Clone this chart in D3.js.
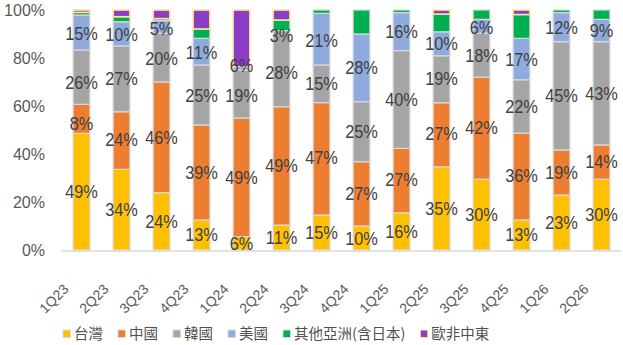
<!DOCTYPE html>
<html>
<head>
<meta charset="utf-8">
<script src="https://cdn.jsdelivr.net/npm/d3@7"></script>
<style>
  body { margin: 0; background: #fff; }
  svg text { font-family: "Liberation Sans", Arial, sans-serif; }
</style>
</head>
<body>
<svg id="chart"></svg>
<script>
// quarters on the x axis
const quarters = ["1Q23", "2Q23", "3Q23", "4Q23", "1Q24", "2Q24", "3Q24",
  "4Q24", "1Q25", "2Q25", "3Q25", "4Q25", "1Q26", "2Q26"];

// segment shares (%) as drawn, bottom to top
const taiwan    = [48.6, 33.6, 23.9, 12.5, 5.5, 10.4, 14.6, 10.0, 15.5, 34.7, 29.5, 12.5, 22.9, 29.5];
const china     = [12.1, 24.0, 46.1, 39.6, 49.5, 49.3, 46.8, 26.8, 26.8, 26.7, 42.5, 36.1, 18.8, 14.3];
const korea     = [22.6, 27.4, 20.3, 25.0, 20.0, 31.7, 15.7, 25.0, 40.7, 19.6, 18.3, 22.2, 45.1, 43.0];
const usa       = [14.6, 10.1, 5.3, 11.1, 1.4, 0.0, 21.5, 28.2, 15.8, 10.0, 5.8, 17.2, 12.1, 9.3];
const otherAsia = [1.1, 2.1, 0.8, 3.9, 0.0, 4.4, 1.4, 10.0, 1.1, 7.4, 3.9, 9.9, 1.1, 3.9];
const emea      = [1.0, 2.8, 3.6, 7.9, 23.6, 4.2, 0.0, 0.0, 0.0, 1.7, 0.0, 1.9, 0.0, 0.0];

// printed data labels (%)
const taiwanLbl = [49, 34, 24, 13, 6, 11, 15, 10, 16, 35, 30, 13, 23, 30];
const chinaLbl  = [8, 24, 46, 39, 49, 49, 47, 27, 27, 27, 42, 36, 19, 14];
const koreaLbl  = [26, 27, 20, 25, 19, 28, 15, 25, 40, 19, 18, 22, 45, 43];
const usaLbl    = [15, 10, 5, 11, 6, 3, 21, 28, 16, 10, 6, 17, 12, 9];

const seriesNames = ["台灣", "中國", "韓國", "美國", "其他亞洲(含日本)", "歐非中東"];
const yTicks = [0, 20, 40, 60, 80, 100];

const colors = ["#FFC000", "#ED7D31", "#A5A5A5", "#8FAADC", "#00B050", "#8B3DC6"];
const strokes = ["#D9D9D9", "#D9D9D9", "#D9D9D9", "#D9D9D9", "#D9D9D9", "#FFE699"];

const width = 623, height = 345;
const svg = d3.select("#chart").attr("width", width).attr("height", height);

const seriesVals = [taiwan, china, korea, usa, otherAsia, emea];
const labelVals = [taiwanLbl, chinaLbl, koreaLbl, usaLbl];

const rows = quarters.map(function (q, i) {
  const r = { q: q };
  seriesNames.forEach(function (s, k) { r[s] = seriesVals[k][i]; });
  return r;
});
const labelRows = quarters.map(function (q, i) {
  const r = { q: q };
  labelVals.forEach(function (arr, k) { r[seriesNames[k]] = arr[i]; });
  return r;
});

const stacked = d3.stack().keys(seriesNames).offset(d3.stackOffsetExpand)(rows);
const labelStack = d3.stack().keys(seriesNames.slice(0, 4))(labelRows);

// scales
const x = d3.scaleBand().domain(quarters).range([61.5, 621.5]);
const y = d3.scaleLinear().domain([0, 100]).range([250, 10]);
const barW = x.bandwidth() * 0.42;

// baseline
svg.append("line")
  .attr("x1", 61).attr("x2", 621)
  .attr("y1", y(0) + 1).attr("y2", y(0) + 1)
  .attr("stroke", "#D9D9D9").attr("stroke-width", 1.5);

// y tick labels
svg.append("g").selectAll("text").data(yTicks).enter().append("text")
  .attr("x", 45).attr("y", function (d) { return y(d); })
  .attr("dy", "0.35em")
  .attr("text-anchor", "end")
  .attr("fill", "#595959")
  .style("font-size", "16px")
  .text(function (d) { return d + "%"; });

// bars
stacked.forEach(function (layer, k) {
  svg.append("g").selectAll("rect").data(layer).enter().append("rect")
    .attr("x", function (d) { return x(d.data.q) + x.bandwidth() / 2 - barW / 2; })
    .attr("y", function (d) { return y(d[1] * 100); })
    .attr("width", barW)
    .attr("height", function (d) { return Math.max(0, y(d[0] * 100) - y(d[1] * 100)); })
    .attr("fill", colors[k])
    .attr("stroke", function (d) { return d[1] - d[0] > 0 ? strokes[k] : "none"; })
    .attr("stroke-width", k == 5 ? 1.6 : 1.2);
});

// data labels (squeezed a little, the original font is narrow)
labelStack.forEach(function (layer) {
  svg.append("g").selectAll("text").data(layer).enter().append("text")
    .attr("transform", function (d) {
      return "translate(" + (x(d.data.q) + x.bandwidth() / 2) + "," +
        y((d[0] + d[1]) / 2) + ") scale(0.86,1)";
    })
    .attr("dy", "0.36em")
    .attr("text-anchor", "middle")
    .attr("fill", "#404040")
    .style("font-size", "19px")
    .text(function (d) { return (d[1] - d[0]) + "%"; });
});

// x labels, rotated
svg.append("g").selectAll("text").data(quarters).enter().append("text")
  .attr("transform", function (d) {
    return "translate(" + (x(d) + x.bandwidth() / 2 - 12) + ",290) rotate(-45)";
  })
  .attr("text-anchor", "end")
  .attr("fill", "#595959")
  .style("font-size", "14px")
  .text(function (d) { return d; });

// legend
const legend = svg.append("g").attr("transform", "translate(63,334)");
let lx = 0;
seriesNames.forEach(function (name, k) {
  const g = legend.append("g").attr("transform", "translate(" + lx + ",0)");
  g.append("rect")
    .attr("x", 0).attr("y", -4).attr("width", 7.5).attr("height", 7.5)
    .attr("fill", colors[k])
    .attr("stroke", strokes[k]).attr("stroke-width", 1);
  const t = g.append("text")
    .attr("x", 11).attr("y", 0).attr("dy", "0.35em")
    .attr("fill", "#505050")
    .style("font-family", "'Noto Sans CJK TC', sans-serif")
    .style("font-size", "14.5px")
    .text(name);
  lx += 11 + t.node().getComputedTextLength() + 15;
});
</script>
</body>
</html>
